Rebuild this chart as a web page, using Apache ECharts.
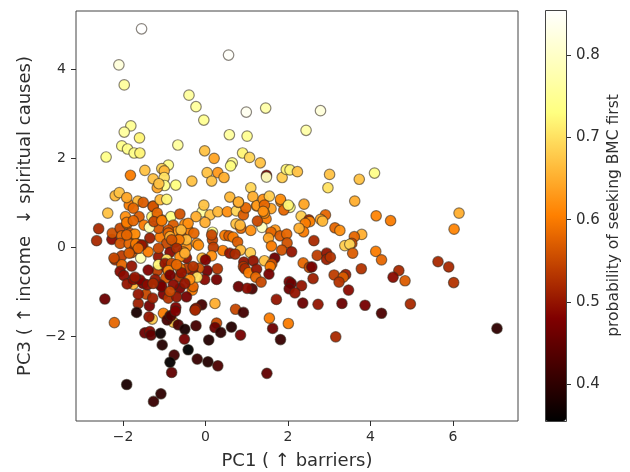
<!DOCTYPE html>
<html><head><meta charset="utf-8">
<style>html,body{margin:0;padding:0;background:#fff}#c{width:630px;height:472px}</style>
<script src="https://cdn.jsdelivr.net/npm/echarts@6/dist/echarts.min.js"></script>
</head><body><div id="c"></div>
<script>
const pc1 = [
-1.55,.56,-2.10,-1.97,-.40,-.23,-.04,.99,1.46,-1.81,
-1.97,-1.60,.58,1.01,-2.03,-1.89,-1.73,-1.59,-.67,-2.41,
-.02,.21,.90,1.07,1.33,.65,.61,-.90,-1.06,-1.0,
-1.82,-1.47,-1.27,-1.0,-.99,-1.17,-1.13,-.72,-.33,.04,
.30,.45,.15,1.48,1.48,1.10,1.86,1.96,2.05,2.23,
3.01,2.97,2.79,2.44,3.73,4.10,3.62,2.39,2.05,6.15,
4.14,2.91,2.32,4.49,2.51,2.79,6.03,2.84,2.53,2.42,
2.38,3.14,3.26,3.79,3.61,3.55,3.38,3.50,3.57,4.13,
4.27,2.63,2.71,2.94,2.94,3.03,2.37,2.52,2.58,3.78,
3.12,3.40,3.34,3.24,3.47,2.61,2.33,4.69,4.55,4.84,
5.64,5.90,6.02,4.97,3.87,4.27,3.31,2.73,2.36,3.16,
7.07,-.08,-.23,-.04,.11,-.01,.30,.53,.75,.92,
.98,.80,1.24,1.47,1.59,1.83,.74,.86,1.10,1.37,
1.69,1.59,1.81,1.97,1.53,1.98,1.60,1.85,2.09,.17,
.17,.47,.57,.67,.78,.85,1.09,.42,.19,.15,
.59,.72,-.08,.0,.93,1.16,1.68,1.43,1.61,1.57,
.92,.96,1.05,1.24,1.54,1.22,1.35,.29,.04,-.16,
-.02,.27,-.30,-.32,.80,1.13,1.01,2.03,2.08,2.03,
2.17,1.72,-.09,-.25,.23,.73,.92,1.55,-2.37,-2.59,
-2.64,-2.27,-2.26,-2.07,-1.90,-1.94,-1.61,-1.85,-1.64,-1.49,
-1.73,-2.03,-1.83,-2.07,-1.85,-1.63,-1.35,-1.10,-1.14,-1.36,
-1.30,-1.17,-1.27,-1.06,-.84,-.62,-.78,-.50,-.42,-.70,
-.90,-.94,-.74,-.58,-.46,-.21,-.28,-1.52,-2.19,-2.03,
-2.03,-1.79,-1.71,-1.57,-1.39,-1.79,-2.07,-1.98,-1.75,-1.90,
-1.75,-1.51,-1.44,-1.63,-2.44,-1.67,-1.36,-1.02,-1.29,-.86,
-.72,-1.14,-.86,-.94,-1.17,-1.39,-1.59,-.96,-.62,-.44,
-.64,-.94,-.78,-1.10,-1.22,-1.41,-1.02,-1.28,-.90,-.46,
-.70,-.30,-.23,-.46,-.54,-.30,-.20,-2.21,-1.37,-.78,
-.93,-.84,-.73,-.25,-.66,-.50,-.23,.27,.23,.37,
.63,.85,1.63,2.01,1.82,-1.47,-1.35,-1.32,-1.09,-1.05,
-.51,.08,-.42,-.76,-.86,-.82,-.20,.06,.30,1.49,
-1.91,-1.08,-1.26,-2.19,-2.09,-1.91,-1.75,-1.51,-1.27,-1.10,
-.94,-1.17,.59,.80,1.15,1.25,1.40,1.55,1.43,1.82,
1.90,2.01,1.43,
-1.91,-1.75,-1.71,-1.91,-1.69,-1.55,-1.25,-1.06,-.90,-1.14,
-1.63,-1.85,-2.22,-.42,-.59,.15,.84,-.86,-.46,-.64,
-.82,-.17,-.70,-1.71,-1.14,-1.63,-1.06,-.86,-.98,-.82,
-.62,-.90,-1.27,-.62,-.50,-.58,-.70,-.86,-.38,-.50,
1.40,2.27,1.26
];
const pc3 = [
4.90,4.31,4.09,3.64,3.41,3.15,2.85,3.03,3.12,2.72,
2.58,2.45,2.52,2.49,2.27,2.20,2.11,2.11,2.29,2.02,
2.16,1.99,2.11,2.01,1.89,1.89,1.82,1.84,1.76,1.71,
1.61,1.72,1.53,1.56,1.38,1.33,1.42,1.39,1.48,1.67,
1.67,1.56,1.48,1.61,1.57,1.33,1.56,1.74,1.73,1.69,
1.63,1.33,3.06,2.62,1.52,1.66,1.03,.96,.89,.76,
.70,.72,.69,.59,.61,.62,.40,.58,.57,.53,
.34,.43,.37,.28,.23,.08,.03,.06,-.14,-.10,
-.29,.14,-.19,-.14,-.28,-.23,-.36,-.46,-.45,-.49,
-.63,-.62,-.68,-.79,-.97,-.71,-.87,-.53,-.68,-.76,
-.33,-.45,-.80,-1.28,-1.31,-1.49,-1.27,-1.29,-1.26,-2.02,
-1.83,.79,.68,.94,.72,.55,.79,.79,.81,.72,
.88,1.00,.92,.63,.86,1.02,.52,.42,.37,.44,
.38,.33,.25,.29,.20,.09,.02,-.07,-.11,.16,
.33,.26,.25,.22,.11,-.07,-.13,-.08,-.01,-.20,
-.14,-.16,-.25,-.29,-.34,-.31,-.25,-.31,-.38,-.44,
-.44,-.49,-.58,-.50,-.61,-.68,-.79,-.49,-.53,-.48,
-.73,-.73,-.59,-.97,-.89,-.94,-.93,-.78,-.82,-.94,
-1.03,-1.18,-1.30,-1.40,-1.27,-1.40,-1.47,-1.60,.76,.41,
.14,.17,.31,.42,.52,.68,.68,.94,1.03,.49,
.27,.25,.31,.08,.07,.06,.20,.22,.42,.44,
.68,.67,.92,.61,.68,.74,.49,.51,.38,.34,
.38,.08,.11,.23,.0,.08,.31,.04,-.29,-.20,
-.40,-.13,-.03,-.25,-.11,-.43,-.55,-.64,-.84,-.83,
-.73,-.82,-1.06,-1.27,-1.17,-1.47,-1.32,-1.49,-1.62,-1.55,
-1.36,-.22,-.12,-.28,-.53,-.52,-.74,-.70,-.93,-.48,
-.68,-.48,-.85,-.85,-.73,-.85,-1.06,-1.15,-1.15,-1.12,
-1.12,-.89,-1.38,-.25,-.11,-.44,-.68,-1.70,-1.57,-1.69,
-1.64,-1.55,-1.44,-1.42,-1.75,-1.85,-1.77,-1.71,-1.81,-1.92,
-1.80,-1.98,-1.83,-1.72,-2.08,-1.93,-1.90,-1.98,-1.94,-2.20,
-2.07,-2.09,-2.31,-2.43,-2.59,-2.82,-2.52,-2.58,-2.67,-2.84,
-3.09,-3.30,-3.47,1.15,1.22,1.11,.87,1.0,.91,1.06,
1.07,.76,1.12,1.01,1.13,.93,1.07,1.14,.94,1.07,
.83,.94,.76,
.55,.59,.29,.27,.07,.04,.57,.59,.31,-.03,
-.03,-.14,-.25,.53,.38,.27,.49,.23,.16,.16,
.16,.04,-.03,-.68,-.40,-1.06,-.89,-1.0,-.37,-.37,
-.48,-.53,-.82,-.22,-.14,-.58,-.40,-.63,-.73,-.82,
.80,.42,.58
];
const prob = [
.855,.85,.82,.76,.76,.76,.75,.84,.77,.75,
.76,.72,.76,.75,.74,.74,.74,.72,.76,.74,
.67,.64,.72,.69,.67,.75,.73,.74,.69,.66,
.60,.67,.67,.70,.74,.64,.67,.73,.67,.67,
.63,.65,.67,.48,.79,.69,.68,.72,.72,.67,
.67,.70,.82,.77,.67,.74,.65,.64,.74,.65,
.61,.58,.68,.60,.52,.64,.61,.66,.61,.60,
.60,.58,.62,.65,.58,.55,.68,.69,.57,.60,
.58,.52,.54,.50,.51,.53,.58,.55,.47,.53,
.54,.51,.57,.53,.49,.51,.50,.52,.49,.57,
.52,.52,.53,.52,.47,.43,.46,.50,.46,.52,
.40,.76,.65,.67,.67,.65,.66,.62,.69,.57,
.58,.65,.63,.60,.64,.62,.67,.58,.62,.79,
.63,.58,.57,.58,.64,.56,.60,.56,.50,.55,
.74,.60,.57,.60,.57,.66,.68,.60,.54,.62,
.50,.52,.66,.48,.50,.50,.46,.67,.56,.60,
.53,.52,.60,.50,.47,.58,.55,.53,.47,.56,
.49,.47,.50,.60,.46,.43,.49,.48,.46,.46,
.50,.50,.42,.50,.65,.55,.42,.60,.67,.52,
.52,.49,.56,.55,.59,.62,.57,.60,.66,.60,
.60,.58,.56,.56,.58,.56,.51,.60,.57,.78,
.72,.70,.59,.62,.73,.56,.57,.62,.60,.62,
.56,.55,.58,.55,.62,.62,.58,.53,.53,.54,
.58,.56,.53,.78,.60,.50,.49,.49,.66,.50,
.49,.48,.55,.51,.46,.38,.47,.60,.68,.43,
.48,.50,.49,.70,.54,.48,.48,.57,.47,.54,
.53,.50,.49,.48,.50,.49,.48,.51,.53,.47,
.50,.58,.50,.50,.62,.53,.70,.58,.50,.67,
.42,.43,.48,.52,.43,.38,.42,.55,.46,.40,
.39,.47,.46,.60,.41,.46,.49,.45,.37,.39,
.47,.39,.355,.42,.36,.45,.41,.39,.43,.45,
.38,.40,.41,.66,.67,.64,.58,.57,.56,.66,
.72,.58,.66,.65,.65,.63,.62,.68,.58,.62,
.58,.72,.62,
.60,.58,.62,.58,.60,.50,.55,.60,.58,.55,
.58,.57,.55,.62,.66,.55,.66,.65,.66,.60,
.56,.62,.52,.50,.72,.50,.47,.55,.50,.55,
.60,.62,.52,.62,.65,.50,.58,.47,.62,.50,
.62,.65,.55
];
const xTicks = [-2,0,2,4,6];
const yTicks = [-2,0,2,4];
const barTicks = [0.4,0.5,0.6,0.7,0.8];
const points = pc1.map((x,i)=>[x,pc3[i],prob[i]]);
const font = '"DejaVu Sans"', ink = '#2e2e2e';
const minus = v => String(v).replace('-', '\u2212');
const chart = echarts.init(document.getElementById('c'), null, {renderer:'canvas'});
chart.setOption({
  animation:false, backgroundColor:'#fff',
  grid:[
    {left:76,top:11,width:442,height:410,show:true,borderColor:'#444',borderWidth:1,backgroundColor:'#fff',outerBoundsMode:'none'},
    {left:545,top:10,width:21,height:411,show:false,outerBoundsMode:'none'}
  ],
  xAxis:[
    {gridIndex:0,type:'value',min:-3.14,max:7.58,splitLine:{show:false},axisLine:{show:false,onZero:false},
     axisTick:{show:true,length:5,customValues:xTicks,lineStyle:{color:ink}},
     axisLabel:{customValues:xTicks,formatter:minus,color:ink,fontFamily:font,fontSize:14,margin:9},
     name:'PC1 ( \u2191 barriers)',nameLocation:'middle',nameGap:31,
     nameTextStyle:{color:ink,fontFamily:font,fontSize:18}},
    {gridIndex:1,type:'value',min:0,max:1,show:false}
  ],
  yAxis:[
    {gridIndex:0,type:'value',min:-3.91,max:5.30,splitLine:{show:false},axisLine:{show:false,onZero:false},
     axisTick:{show:true,length:5,customValues:yTicks,lineStyle:{color:ink}},
     axisLabel:{customValues:yTicks,formatter:minus,color:ink,fontFamily:font,fontSize:14,margin:10},
     name:'PC3 ( \u2191 income  \u2193 spiritual causes)',nameLocation:'middle',nameGap:42,
     nameTextStyle:{color:ink,fontFamily:font,fontSize:18}},
    {gridIndex:1,type:'value',position:'right',min:0.355,max:0.855,splitLine:{show:false},
     axisLine:{show:false,onZero:false},
     axisTick:{show:true,length:5,customValues:barTicks,lineStyle:{color:ink}},
     axisLabel:{customValues:barTicks,formatter:v=>Number(v).toFixed(1),color:ink,fontFamily:font,fontSize:15,margin:10},
     name:'probability of seeking BMC first',nameLocation:'middle',nameGap:48,nameRotate:90,
     nameTextStyle:{color:ink,fontFamily:font,fontSize:15.5,verticalAlign:'middle'}}
  ],
  visualMap:{type:'continuous',seriesIndex:0,dimension:2,min:0.355,max:0.855,
    left:545,top:10,itemWidth:21,itemHeight:411,padding:0,calculable:false,text:null,realtime:false,
    showLabel:false,
    inRange:{color:['#000000','#800000','#ff8000','#ffff80','#ffffff']},
    textStyle:{fontSize:0},borderWidth:0
  },
  series:[
    {type:'scatter',xAxisIndex:0,yAxisIndex:0,data:points,symbol:'circle',symbolSize:10.5,
     itemStyle:{borderColor:'rgba(50,40,30,0.6)',borderWidth:1.2,opacity:0.95},emphasis:{disabled:true}},
    {type:'scatter',xAxisIndex:1,yAxisIndex:1,data:[],silent:true}
  ],
  graphic:[{type:'rect',z:100,silent:true,shape:{x:545.5,y:10.5,width:21,height:411},
    style:{fill:'none',stroke:'#444',lineWidth:1}}]
});
</script></body></html>
